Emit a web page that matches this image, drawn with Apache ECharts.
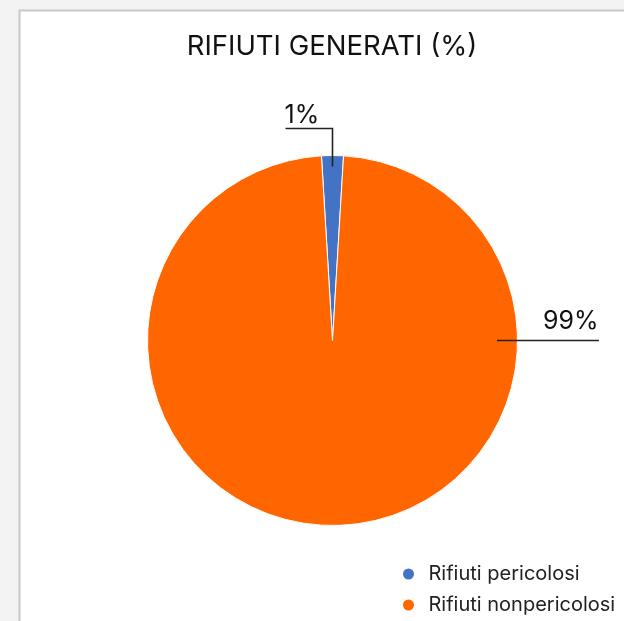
<!DOCTYPE html>
<html>
<head>
<meta charset="utf-8">
<script src="https://cdn.jsdelivr.net/npm/echarts@6/dist/echarts.min.js"></script>
<style>
  html, body { margin: 0; padding: 0; background: #f3f3f3; overflow: hidden; }
  #chart { width: 624px; height: 621px; }
</style>
</head>
<body>
<div id="chart"></div>
<script>
  // data
  const categories = ['Rifiuti pericolosi', 'Rifiuti nonpericolosi']
  const values = [1.9, 98.1]
  const labelTexts = ['1%', '99%']
  const colors = ['#4472c4', '#ff6600']

  // pie geometry
  const cx = 332.5
  const cy = 340.5
  const r = 185
  const font = 'Inter, "Noto Sans", sans-serif'

  // leader lines, drawn over the pie like in the original (they start inside the slices)
  const leaderLines = [
    [[cx, cy - 174], [cx, cy - 212], [cx - 47, cy - 212]],
    [[cx + 164.5, cy], [cx + 266.5, cy]]
  ]

  const option = {
    backgroundColor: '#f3f3f3',
    animation: false,
    graphic: [{
      type: 'rect',
      z: -10,
      shape: { x: 19.5, y: 10.5, width: 700, height: 700 },
      style: { fill: '#fff', stroke: '#c8c8c8', lineWidth: 2 }
    }].concat(leaderLines.map(pts => ({
      type: 'polyline',
      z: 100,
      shape: { points: pts },
      style: { fill: null, stroke: '#222', lineWidth: 1.6 }
    }))),
    title: {
      text: 'RIFIUTI GENERATI (%)',
      left: 327,
      top: 28,
      textAlign: 'center',
      textStyle: { fontFamily: font, fontSize: 27.5, fontWeight: 'normal', color: '#111' }
    },
    legend: {
      orient: 'vertical',
      left: 396,
      top: 559,
      itemGap: 11,
      icon: 'circle',
      itemWidth: 30,
      itemHeight: 13,
      data: categories,
      textStyle: { fontFamily: font, fontSize: 20, color: '#222' }
    },
    series: [{
      type: 'pie',
      center: [cx, cy],
      radius: r,
      startAngle: 90 + values[0] / 100 * 180,
      clockwise: true,
      itemStyle: { borderColor: '#fff', borderWidth: 1 },
      label: {
        show: true,
        position: 'outside',
        fontFamily: font,
        fontSize: 25,
        color: '#111',
        formatter: p => labelTexts[p.dataIndex]
      },
      labelLine: { show: false },
      labelLayout: function (p) {
        if (p.dataIndex === 0) {
          return { x: cx - 48, y: cy - 213, align: 'left', verticalAlign: 'bottom' }
        }
        return { x: cx + 266, y: cy - 7, align: 'right', verticalAlign: 'bottom' }
      },
      data: categories.map((name, i) => ({
        name: name,
        value: values[i],
        itemStyle: { color: colors[i] }
      }))
    }]
  }

  const chart = echarts.init(document.getElementById('chart'))
  chart.setOption(option)
</script>
</body>
</html>
